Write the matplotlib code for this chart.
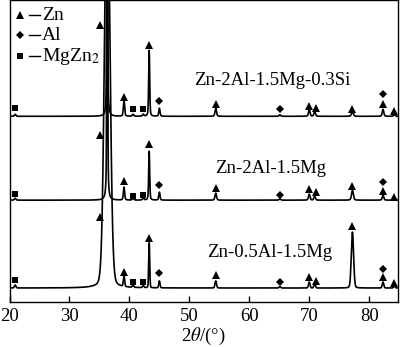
import numpy as np
import matplotlib
matplotlib.use("Agg")
import matplotlib.pyplot as plt

plt.rcParams["font.family"] = ["Liberation Serif", "DejaVu Serif"]
plt.rcParams["mathtext.fontset"] = "stix"

# ---- diffraction data: peak positions (2theta, deg), heights, FWHM ----
samples = ["Zn-2Al-1.5Mg-0.3Si", "Zn-2Al-1.5Mg", "Zn-0.5Al-1.5Mg"]
offsets = [186, 102, 14]

peak_pos = [20.95, 36.3, 39.1, 40.6, 42.3, 43.3, 45.0, 54.4, 65.1, 70.0, 70.9, 77.2, 82.3, 84.2]

heights_si = [2, 700, 16, 2, 2, 66, 8, 8, 1.5, 7, 5, 5, 7, 2]
heights_2al = [2, 700, 13, 2, 2, 49, 8, 7, 1.5, 6, 4, 10, 5, 2]
heights_05al = [3, 420, 11, 2, 2, 45, 7, 7, 1.5, 6, 4, 56, 6, 2]
heights = [heights_si, heights_2al, heights_05al]

fwhm_si = [0.3, 0.12, 0.25, 0.3, 0.3, 0.2, 0.25, 0.3, 0.3, 0.3, 0.3, 0.35, 0.3, 0.3]
fwhm_2al = [0.3, 0.13, 0.25, 0.3, 0.3, 0.2, 0.25, 0.3, 0.3, 0.3, 0.3, 0.35, 0.3, 0.3]
fwhm_05al = [0.3, 1.05, 0.25, 0.3, 0.3, 0.2, 0.25, 0.3, 0.3, 0.3, 0.3, 0.45, 0.3, 0.3]
fwhms = [fwhm_si, fwhm_2al, fwhm_05al]
lorentz_frac = [0.35, 0.35, 0.12]

# ---- phase markers (2theta, height above baseline) ----
zn_pos = [35.1, 39.1, 43.3, 54.4, 70.0, 71.2, 77.2, 82.3, 84.2]
zn_y = [[91, 19, 71, 12, 10, 8, 7, 12, 5],
        [65, 19, 56, 12, 11, 8, 14, 9, 3],
        [71, 16, 50, 13, 11, 7, 62, 11, 5]]
al_pos = [45.0, 65.1, 82.3]
al_y = [[15, 7, 22], [15, 5, 18], [15, 6, 19]]
mg_pos = [20.95, 40.6, 42.3]
mg_y = [[8, 7, 7], [6, 4, 5], [8, 6, 6]]

xticks = [20, 30, 40, 50, 60, 70, 80]
xlim = (20, 84.8)


def profile(x, pos, h, w, eta):
    y = np.zeros_like(x)
    for p, a, f in zip(pos, h, w):
        g = f / 2.0
        lor = 1.0 / (1.0 + ((x - p) / g) ** 2)
        s = f / 2.3548
        gau = np.exp(-0.5 * ((x - p) / s) ** 2)
        y += a * (eta * lor + (1 - eta) * gau)
    return y


fig = plt.figure(figsize=(4.0, 3.47), dpi=100)
ax = fig.add_axes([9.5 / 400, 45 / 347, 388.5 / 400, 301.5 / 347])

x = np.linspace(xlim[0], xlim[1], 8000)
for i in range(3):
    y = offsets[i] + profile(x, peak_pos, heights[i], fwhms[i], lorentz_frac[i])
    ax.plot(x, y, color="black", lw=1.2)
    ax.plot(zn_pos, np.array(zn_y[i]) + offsets[i], "^", color="black", ms=5.6, mew=0)
    ax.plot(al_pos, np.array(al_y[i]) + offsets[i], "D", color="black", ms=3.8, mew=0)
    ax.plot(mg_pos, np.array(mg_y[i]) + offsets[i], "s", color="black", ms=4.5, mew=0)

label_xy = [(63.8, 222), (63.6, 134), (63.4, 50)]
for name, (lx, ly) in zip(samples, label_xy):
    ax.text(lx, ly, name, ha="center", va="center", fontsize=13.5)

# phase key in the upper left corner
key_items = [("^", 5.6, "Zn", 287), ("D", 3.8, "Al", 267), ("s", 4.5, "MgZn$_2$", 246)]
for mk, ms, lab, ky in key_items:
    ax.plot([21.8], [ky], mk, color="black", ms=ms, mew=0)
    ax.plot([23.3, 25.1], [ky, ky], color="black", lw=1.0)
    ax.text(25.4, ky, lab, ha="left", va="center", fontsize=14)

ax.set_xlim(*xlim)
ax.set_ylim(0, 302)
ax.set_xticks(xticks)
ax.set_yticks([])
ax.tick_params(axis="x", direction="in", length=4, width=1, labelsize=13.5, pad=4)
for sp in ax.spines.values():
    sp.set_linewidth(1.0)
ax.set_xlabel("2$\\theta$/(°)", fontsize=13.5, labelpad=1)

fig.savefig("out.png", dpi=100)
